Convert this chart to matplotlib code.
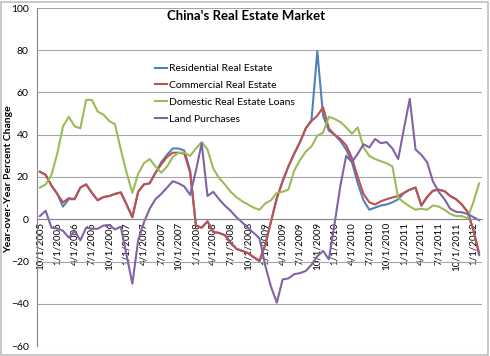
"""
China's real estate market: year-over-year percent change, Oct 2005 - Feb 2012
"""

### Import modules
import numpy as np
import matplotlib
matplotlib.use('Agg')
import matplotlib.pyplot as plt
from matplotlib.patches import Rectangle

### Monthly categories (10/1/2005 ... 2/1/2012)
months = []
for yr in range(2005, 2013):
    for mo in range(1, 13):
        if (yr, mo) >= (2005, 10) and (yr, mo) <= (2012, 2):
            months.append('%d/1/%d' % (mo, yr))

### Series
residential = [22.5, 21, 16, 12, 6, 9.5, 9.5, 15, 16.5, 12.5, 9, 10.5, 11, 12, 12.7,
               7, 1, 13, 16.5, 17, 22, 27, 30.5, 33.5, 33.5, 32.5, 23, -3, -4, -1,
               -6, -6.5, -7.5, -11, -14, -15, -16, -18, -20, -12, -1, 10, 18, 25, 31,
               36.5, 43, 47, 79.5, 49, 42, 40, 37, 33, 27, 17, 9, 4.5, 5.5, 6.5, 7,
               8, 9.5, 12.5, 14, 15, 6.5, 10.5, 13.5, 14, 13.3, 11, 9.5, 7, 3.5, -5, -17]
commercial = [22.5, 21, 16, 12, 8, 10, 9.5, 15, 16.5, 12.5, 9, 10.5, 11, 12, 12.7,
              7, 1, 13, 16.5, 17, 22, 26, 29.5, 31.5, 31.5, 31, 22, -3, -4, -1,
              -6, -6.5, -7.5, -11, -14, -15, -16, -18, -19.5, -12, -1, 10, 18, 25, 31,
              36.5, 43, 46.5, 49, 53, 43, 40, 38, 35, 29, 20, 12, 8, 7, 8.5, 9.5,
              10.3, 11, 12.5, 14, 15, 6.5, 10.5, 13.5, 14, 13.3, 11, 9.5, 7, 3.5, -5, -16]
loans = [15, 16.5, 21, 31, 44, 48.5, 44, 43, 56.5, 56.5, 51, 49.5, 46.5, 45, 33,
         22, 12.5, 21.5, 26.5, 28.5, 25, 22, 25, 29.5, 31.5, 31.5, 30, 33.5, 36.5, 33,
         24, 19.5, 16.5, 13, 10.5, 8.5, 7, 5.5, 4.5, 7.5, 9, 12.5, 13, 14, 23,
         28, 32, 34.5, 39.5, 41, 48.5, 47.5, 46, 43.5, 40.5, 43.5, 34, 30, 28.5, 27.5, 26.5,
         25, 10, 8, 6, 4.5, 5, 4.5, 6.5, 6, 4.5, 2.5, 1.5, 1.5, 0.5, 8, 17]
land = [1.5, 4, -4, -4.3, -5.5, -8.7, -5.5, -10, -4, -4.5, -4.5, -3, -2.7, -4.8, -3.5,
        -17, -30.5, -10, -1.5, 5, 9.5, 12, 15, 18, 17, 15.5, 11.5, 23, 36, 11,
        13, 9.5, 6.5, 4, 1, -1.5, -4, -6.5, -9, -22, -32, -39.5, -28.5, -28, -26,
        -25.5, -24.5, -21.5, -17.5, -15, -19, -2, 16, 30, 27, 31, 35.5, 34, 38, 36, 36.5,
        33.5, 28.5, 43, 57, 33, 30.5, 27, 18, 13, 9.5, 5, 3.5, 3.3, 2.5, 1, -0.5]

names = ['Residential Real Estate', 'Commercial Real Estate',
         'Domestic Real Estate Loans', 'Land Purchases']
colors = ['#4F81BD', '#C0504D', '#9BBB59', '#8064A2']

###############################################################################
### Plot figure
plt.rcParams['font.family'] = ['Lato', 'DejaVu Sans']

fig = plt.figure(figsize=(4.9, 3.56), dpi=100)
fig.patch.set_facecolor('white')
fig.patches.append(Rectangle((0.002, 0.003), 0.994, 0.992, transform=fig.transFigure,
                             fill=False, edgecolor='#BFBFBF', linewidth=1.2))

ax = fig.add_axes([37/490, 10/356, 445/490, 338/356])
x = np.arange(len(months))
for series, name, c in zip([residential, commercial, loans, land], names, colors):
    ax.plot(x, series, color=c, linewidth=1.5, label=name)

ax.set_xlim(-0.5, len(months) - 0.5)
ax.set_ylim(-60, 100)
ax.set_yticks(np.arange(-60, 101, 20))
ax.yaxis.grid(True, color='#A6A6A6', linewidth=0.8)
ax.set_axisbelow(True)

ax.spines['top'].set_visible(False)
ax.spines['right'].set_visible(False)
ax.spines['bottom'].set_position(('data', 0))
ax.spines['bottom'].set_color('#868686')
ax.spines['left'].set_color('#868686')

ax.set_xticks(x[::3])
ax.set_xticklabels(months[::3], rotation=90, fontsize=7)
ax.tick_params(axis='x', length=0, pad=2)
ax.tick_params(axis='y', length=0, labelsize=7.5, pad=6)

fig.text(0.502, 1 - 16/356, "China's Real Estate Market", ha='center', va='center',
         fontsize=9.5, fontweight='bold')
fig.text(9/490, 177/356, 'Year-over-Year Percent Change', rotation=90, ha='center',
         va='center', fontsize=7.5, fontweight='bold')

leg = ax.legend(loc='upper left', bbox_to_anchor=(0.243, 0.862), frameon=False,
                fontsize=7.5, handlelength=1.2, handletextpad=0.15, labelspacing=0.72)

plt.savefig('out.png', dpi=100)
